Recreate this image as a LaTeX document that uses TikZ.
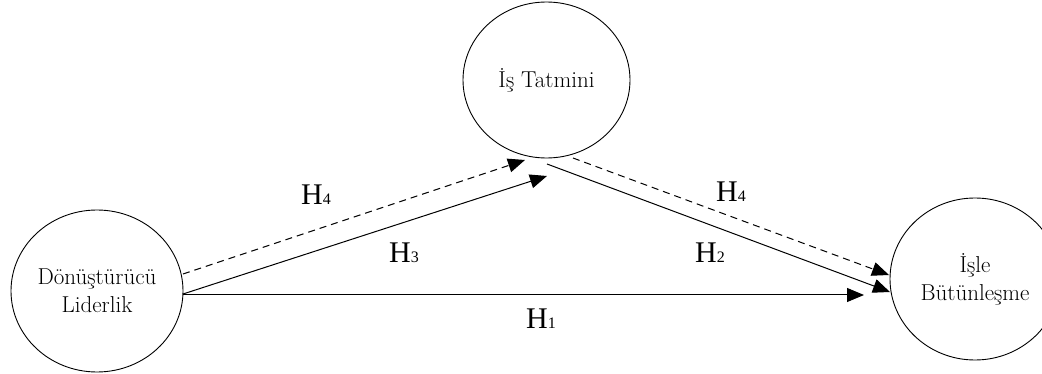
\documentclass[tikz,border=0pt]{standalone}
\usepackage{fontspec}
\newfontfamily\hfont{Liberation Serif}
\usetikzlibrary{shapes.geometric,arrows.meta}
\tikzset{
  construct/.style={draw, line width=0.9pt, ellipse, inner sep=0pt, align=center,
    font=\fontsize{23}{28}\selectfont},
  conn/.style={line width=1pt, -{Triangle[length=17pt,width=14pt]}},
  dashconn/.style={conn, dash pattern=on 7pt off 5pt},
  hlabel/.style={font=\hfont\fontsize{30}{30}\selectfont, inner sep=0pt}
}
\newcommand{\hsub}[1]{H{\fontsize{16}{16}\selectfont #1}}
\begin{document}
\begin{tikzpicture}[x=1pt,y=-1pt]
\useasboundingbox (0,0) rectangle (1042,374);
\clip (0,0) rectangle (1042,374);
\node[construct, minimum width=172pt, minimum height=162pt] (dl) at (97,291) {Dönüştürücü\\Liderlik};
\node[construct, minimum width=167pt, minimum height=156pt] (it) at (546.5,80) {İş Tatmini};
\node[construct, minimum width=170pt, minimum height=162pt] (ib) at (975,279) {İşle\\Bütünleşme};
\coordinate (a4s) at (183,274);
\coordinate (a4e) at (525,160);
\coordinate (a3s) at (183,294);
\coordinate (a3e) at (547,176);
\coordinate (a1s) at (183,295);
\coordinate (a1e) at (864,295);
\coordinate (b2s) at (547,164);
\coordinate (b2e) at (890,292);
\coordinate (b4s) at (573,158);
\coordinate (b4e) at (889,275);
\draw[dashconn] (a4s) -- (a4e);
\draw[conn] (a3s) -- (a3e);
\draw[conn] (a1s) -- (a1e);
\draw[conn] (b2s) -- (b2e);
\draw[dashconn] (b4s) -- (b4e);
\node[hlabel] (l4a) at (316,195) {\hsub{4}};
\node[hlabel] (l3) at (404,253) {\hsub{3}};
\node[hlabel] (l4b) at (731,192) {\hsub{4}};
\node[hlabel] (l2) at (710,253) {\hsub{2}};
\node[hlabel] (l1) at (541,319) {\hsub{1}};
\end{tikzpicture}
\end{document}
